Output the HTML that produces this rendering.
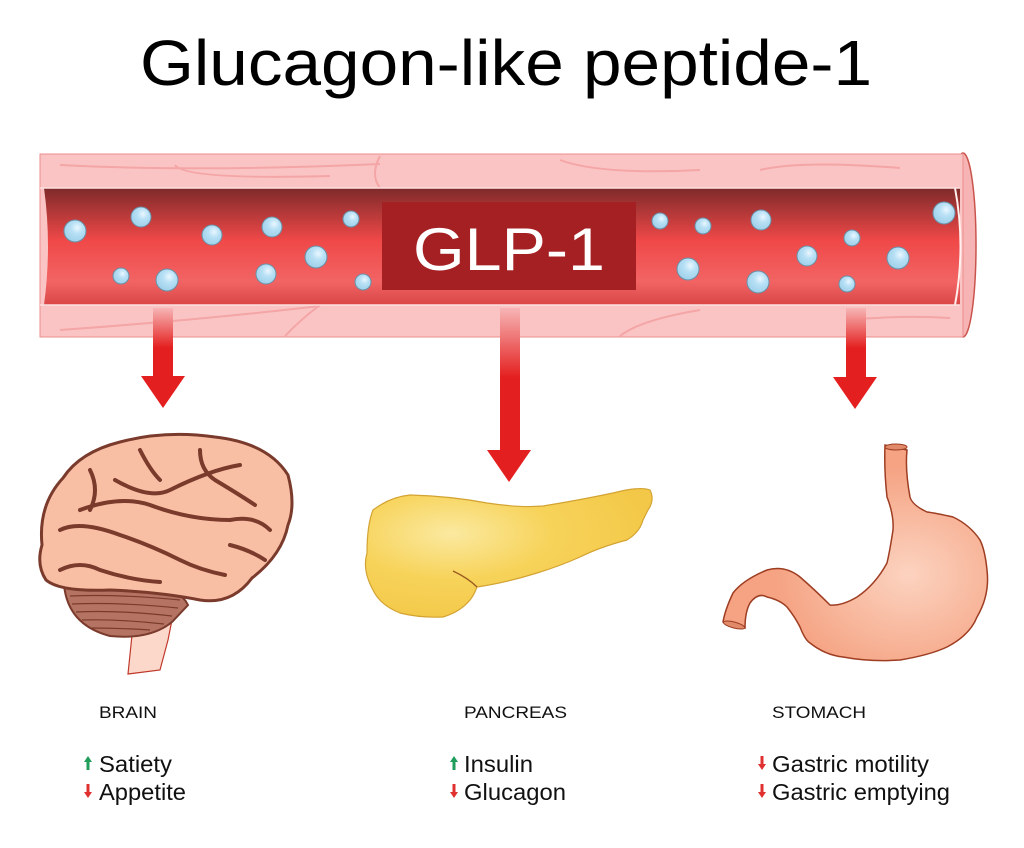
<!DOCTYPE html>
<html><head><meta charset="utf-8"><style>
html,body{margin:0;padding:0;background:#fff;}
svg{display:block;font-family:"Liberation Sans",Arial,sans-serif;}
</style></head><body>
<svg width="1024" height="848" viewBox="0 0 1024 848" xmlns="http://www.w3.org/2000/svg">
<defs>
<linearGradient id="lumen" x1="0" y1="0" x2="0" y2="1">
<stop offset="0" stop-color="#7f2a2a"/><stop offset="0.45" stop-color="#f04848"/><stop offset="0.8" stop-color="#f26464"/><stop offset="1" stop-color="#d94646"/>
</linearGradient>
<linearGradient id="arr" x1="0" y1="0" x2="0" y2="1">
<stop offset="0" stop-color="#f7b5b5"/><stop offset="0.4" stop-color="#e41f1f"/><stop offset="1" stop-color="#e41f1f"/>
</linearGradient>
<radialGradient id="bub" cx="0.6" cy="0.35" r="0.7">
<stop offset="0" stop-color="#eaf7ff"/><stop offset="0.4" stop-color="#b7e0f5"/><stop offset="1" stop-color="#9ccfe9"/>
</radialGradient>
<radialGradient id="panc" cx="0.3" cy="0.35" r="0.7">
<stop offset="0" stop-color="#fbe9a0"/><stop offset="0.5" stop-color="#f7d35a"/><stop offset="1" stop-color="#f3c848"/>
</radialGradient>
<radialGradient id="stom" cx="0.7" cy="0.6" r="0.5">
<stop offset="0" stop-color="#fcd3c0"/><stop offset="1" stop-color="#f5a383"/>
</radialGradient>
</defs>

<text x="140" y="85" font-size="64" textLength="732" lengthAdjust="spacingAndGlyphs" fill="#000">Glucagon-like peptide-1</text>

<!-- vessel -->
<ellipse cx="963" cy="245" rx="13" ry="92" fill="#f7b4b4" stroke="#c9544e" stroke-width="1.5"/>
<rect x="40" y="154" width="923" height="183" fill="#fbc4c4" stroke="#ec8e8e" stroke-width="1"/>
<path d="M175 165 Q185 180 330 176 M380 156 Q370 175 380 188 M560 160 Q600 175 700 170 M760 170 Q800 160 900 168 M60 165 Q200 172 380 164" stroke="#f4a5a5" stroke-width="2" fill="none"/>
<path d="M60 330 Q200 320 320 306 M320 305 Q300 320 285 336 M620 336 Q640 320 700 310 M850 320 Q900 315 950 318" stroke="#f4a5a5" stroke-width="2" fill="none"/>
<path d="M44 188 L960 188 L960 305 L44 305 Q52 246 44 188 Z" fill="url(#lumen)"/>
<path d="M955 188 Q966 246 955 305" stroke="#fff0ee" stroke-width="2" fill="none"/>
<line x1="40" y1="188" x2="960" y2="188" stroke="#fde0e0" stroke-width="1.5"/>
<line x1="40" y1="305" x2="960" y2="305" stroke="#fde0e0" stroke-width="1.5"/>

<g fill="url(#bub)" stroke="#6a8fa5" stroke-width="1">
<circle cx="75" cy="231" r="11"/><circle cx="141" cy="217" r="10"/><circle cx="212" cy="235" r="10"/><circle cx="272" cy="227" r="10"/><circle cx="351" cy="219" r="8"/>
<circle cx="121" cy="276" r="8"/><circle cx="167" cy="280" r="11"/><circle cx="266" cy="274" r="10"/><circle cx="316" cy="257" r="11"/><circle cx="363" cy="282" r="8"/>
<circle cx="660" cy="221" r="8"/><circle cx="703" cy="226" r="8"/><circle cx="761" cy="220" r="10"/><circle cx="852" cy="238" r="8"/><circle cx="944" cy="213" r="11"/>
<circle cx="688" cy="269" r="11"/><circle cx="758" cy="282" r="11"/><circle cx="807" cy="256" r="10"/><circle cx="847" cy="284" r="8"/><circle cx="898" cy="258" r="11"/>
</g>

<rect x="382" y="202" width="254" height="88" fill="#a52022"/>
<text x="509" y="270" font-size="60" fill="#fff" text-anchor="middle" textLength="192" lengthAdjust="spacingAndGlyphs">GLP-1</text>

<!-- arrows -->
<path d="M153 308 H173 V376 H185 L163 408 L141 376 H153 Z" fill="url(#arr)"/>
<path d="M500 308 H520 V450 H531 L509 482 L487 450 H500 Z" fill="url(#arr)"/>
<path d="M846 308 H866 V377 H877 L855 409 L833 377 H846 Z" fill="url(#arr)"/>

<!-- brain -->
<path d="M132 635 L140 605 L175 605 L168 640 L160 670 L128 674 Z" fill="#fcd8cb" stroke="#c0392b" stroke-width="1.2"/>
<path d="M64 585 Q68 625 110 636 Q150 640 172 622 L188 605 Q180 588 150 588 Z" fill="#b57463" stroke="#7a3b2c" stroke-width="2"/>
<g stroke="#7a3b2c" stroke-width="1.2" fill="none"><path d="M70 596 Q120 594 180 600"/><path d="M72 604 Q120 602 178 608"/><path d="M76 612 Q120 610 172 616"/><path d="M82 620 Q120 619 164 624"/><path d="M92 628 Q120 628 150 630"/></g>
<path d="M42 545 Q38 505 63 478 Q80 452 120 442 Q165 430 215 437 Q268 443 288 475 Q296 505 288 525 Q282 555 252 578 Q232 605 200 600 Q160 592 110 590 Q60 592 46 580 Q36 565 42 545 Z" fill="#f9bfa4" stroke="#7a3b2c" stroke-width="3"/>
<g stroke="#7a3b2c" stroke-width="4" fill="none" stroke-linecap="round">
<path d="M60 530 Q80 520 120 535 Q150 545 180 560 Q200 570 225 575"/>
<path d="M80 510 Q120 495 150 505 Q190 520 230 520 Q255 515 270 530"/>
<path d="M115 480 Q150 500 170 490 Q210 470 240 465"/>
<path d="M140 450 Q150 470 160 480"/>
<path d="M200 450 Q200 470 215 480 Q240 495 255 505"/>
<path d="M90 470 Q100 490 90 510"/>
<path d="M60 570 Q80 560 100 570 Q130 580 160 582"/>
<path d="M230 545 Q250 550 265 560"/>
</g>

<!-- pancreas -->
<path d="M373 510 Q390 497 410 495 Q450 496 487 503 Q520 508 543 506 Q580 500 613 493 Q640 486 650 490 Q655 500 648 510 L643 520 Q640 532 627 540 Q600 547 580 557 Q560 566 537 573 Q505 583 477 587 Q474 595 470 600 Q460 612 443 617 Q420 618 400 613 Q380 605 373 590 Q362 570 367 553 Q367 525 373 510 Z" fill="url(#panc)" stroke="#d3a332" stroke-width="1.2"/>
<path d="M453 571 Q468 578 477 587" stroke="#9a5a1f" stroke-width="1.3" fill="none"/>

<!-- stomach -->
<path d="M885 445 Q884 470 887 497 Q894 515 893 530 Q890 550 887 563 Q875 585 857 597 Q842 606 830 605 Q815 590 800 577 Q785 565 767 570 Q743 580 733 593 Q725 610 723 622 L745 628 Q745 612 750 603 Q758 592 767 597 Q780 600 787 607 Q795 617 800 627 Q805 640 810 643 Q825 655 843 657 Q870 662 900 660 Q930 655 947 647 Q970 635 977 617 Q990 595 987 570 Q985 550 980 540 Q970 525 953 517 Q935 513 927 512 Q912 505 910 497 Q905 470 907 450 Z" fill="url(#stom)" stroke="#9e3d22" stroke-width="1.5"/>
<ellipse cx="896" cy="447" rx="11" ry="3" fill="#e08a6a" stroke="#9e3d22" stroke-width="1"/>
<ellipse cx="734" cy="625" rx="11" ry="3" transform="rotate(15 734 625)" fill="#e08a6a" stroke="#9e3d22" stroke-width="1"/>

<!-- labels -->
<g font-size="17" fill="#111">
<text x="99" y="718" textLength="58" lengthAdjust="spacingAndGlyphs">BRAIN</text>
<text x="464" y="718" textLength="103" lengthAdjust="spacingAndGlyphs">PANCREAS</text>
<text x="772" y="718" textLength="94" lengthAdjust="spacingAndGlyphs">STOMACH</text>
</g>
<g font-size="23" fill="#111">
<text x="99" y="772" textLength="73" lengthAdjust="spacingAndGlyphs">Satiety</text>
<text x="99" y="800" textLength="87" lengthAdjust="spacingAndGlyphs">Appetite</text>
<text x="464" y="772" textLength="69" lengthAdjust="spacingAndGlyphs">Insulin</text>
<text x="464" y="800" textLength="102" lengthAdjust="spacingAndGlyphs">Glucagon</text>
<text x="772" y="772" textLength="157" lengthAdjust="spacingAndGlyphs">Gastric motility</text>
<text x="772" y="800" textLength="178" lengthAdjust="spacingAndGlyphs">Gastric emptying</text>
</g>
<g>
<path d="M88 756 L92 762 H89.5 V770 H86.5 V762 H84 Z" fill="#1e9e5a"/>
<path d="M86.5 784 H89.5 V792 H92 L88 798 L84 792 H86.5 Z" fill="#e0302f"/>
<path d="M454 756 L458 762 H455.5 V770 H452.5 V762 H450 Z" fill="#1e9e5a"/>
<path d="M452.5 784 H455.5 V792 H458 L454 798 L450 792 H452.5 Z" fill="#e0302f"/>
<path d="M760.5 756 H763.5 V764 H766 L762 770 L758 764 H760.5 Z" fill="#e0302f"/>
<path d="M760.5 784 H763.5 V792 H766 L762 798 L758 792 H760.5 Z" fill="#e0302f"/>
</g>
</svg>
</body></html>
